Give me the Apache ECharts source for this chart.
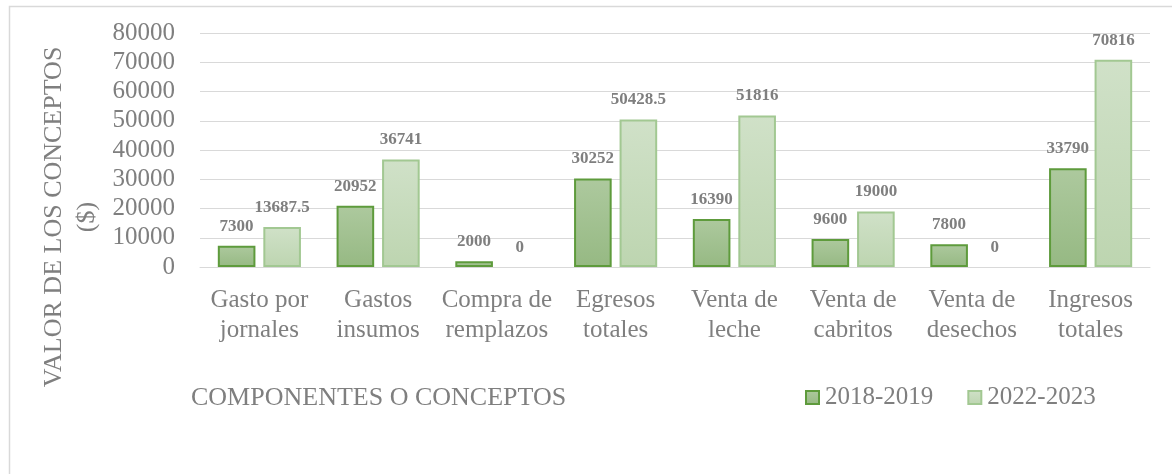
<!DOCTYPE html>
<html>
<head>
<meta charset="utf-8">
<script src="https://cdn.jsdelivr.net/npm/echarts@6/dist/echarts.min.js"></script>
<style>html,body{margin:0;padding:0;background:#fff;}#c{width:1172px;height:474px;}</style>
</head>
<body>
<div id="c"></div>
<script>
var categories = ['Gasto por\njornales', 'Gastos\ninsumos', 'Compra de\nremplazos', 'Egresos\ntotales', 'Venta de\nleche', 'Venta de\ncabritos', 'Venta de\ndesechos', 'Ingresos\ntotales'];
var seriesNames = ['2018-2019', '2022-2023'];
var values2018 = [7300, 20952, 2000, 30252, 16390, 9600, 7800, 33790];
var values2022 = [13687.5, 36741, 0, 50428.5, 51816, 19000, 0, 70816];
var yTicks = {min: 0, max: 80000, interval: 10000};

var FONT = '"Liberation Serif", "Times New Roman", serif';
var GRAY = '#7f7f7f';
var chart = echarts.init(document.getElementById('c'));
function grad(a, b) {
  return new echarts.graphic.LinearGradient(0, 0, 0, 1, [{offset: 0, color: a}, {offset: 1, color: b}]);
}
var fill1 = grad('#adc99e', '#96b983');
var fill2 = grad('#d0e1c8', '#bdd5b0');
function toData(arr) {
  return arr.map(function (v) {
    return v === 0 ? {value: v, itemStyle: {borderWidth: 0, opacity: 0}} : v;
  });
}
var labelStyle = {show: true, position: 'top', distance: 11, color: GRAY, fontFamily: FONT, fontWeight: 'bold', fontSize: 17, opacity: 1};
chart.setOption({
  animation: false,
  grid: {left: 200, right: 22, top: 33, bottom: 207},
  legend: {
    left: 805, top: 385, padding: 0, icon: 'rect', itemWidth: 13, itemHeight: 13, itemGap: 34,
    textStyle: {color: GRAY, fontFamily: FONT, fontSize: 25, padding: [0, 0, 0, 1]},
    data: [
      {name: seriesNames[0], itemStyle: {color: fill1, borderColor: '#5e9b3c', borderWidth: 2}},
      {name: seriesNames[1], itemStyle: {color: fill2, borderColor: '#a2c892', borderWidth: 2}}
    ]
  },
  xAxis: {
    type: 'category', data: categories,
    axisLine: {lineStyle: {color: '#d9d9d9', width: 1}},
    axisTick: {show: false},
    axisLabel: {color: GRAY, fontFamily: FONT, fontSize: 25, lineHeight: 30, margin: 18, interval: 0}
  },
  yAxis: {
    type: 'value', min: yTicks.min, max: yTicks.max, interval: yTicks.interval,
    axisLine: {show: false}, axisTick: {show: false},
    splitLine: {lineStyle: {color: '#d9d9d9', width: 1}},
    axisLabel: {color: GRAY, fontFamily: FONT, fontSize: 25, margin: 25, formatter: function (v) { return String(v); }}
  },
  series: [
    {name: seriesNames[0], type: 'bar', data: toData(values2018), barGap: '21%', barCategoryGap: '30%',
     itemStyle: {color: fill1, borderColor: '#5e9b3c', borderWidth: 2}, label: labelStyle},
    {name: seriesNames[1], type: 'bar', data: toData(values2022),
     itemStyle: {color: fill2, borderColor: '#a2c892', borderWidth: 2}, label: labelStyle}
  ],
  graphic: [
    {type: 'rect', left: 7, top: 4, shape: {x: 0, y: 0, width: 1180, height: 490}, style: {fill: 'none', stroke: '#d9d9d9', lineWidth: 1.5}, silent: true},
    {type: 'text', x: 71, y: 217, rotation: Math.PI / 2,
     style: {text: 'VALOR DE LOS CONCEPTOS\n($)', fill: GRAY, font: '26px ' + FONT, align: 'center', verticalAlign: 'middle', lineHeight: 33}},
    {type: 'text', x: 191, y: 398,
     style: {text: 'COMPONENTES O CONCEPTOS', fill: GRAY, font: '26px ' + FONT, align: 'left', verticalAlign: 'middle'}}
  ]
});
</script>
</body>
</html>
